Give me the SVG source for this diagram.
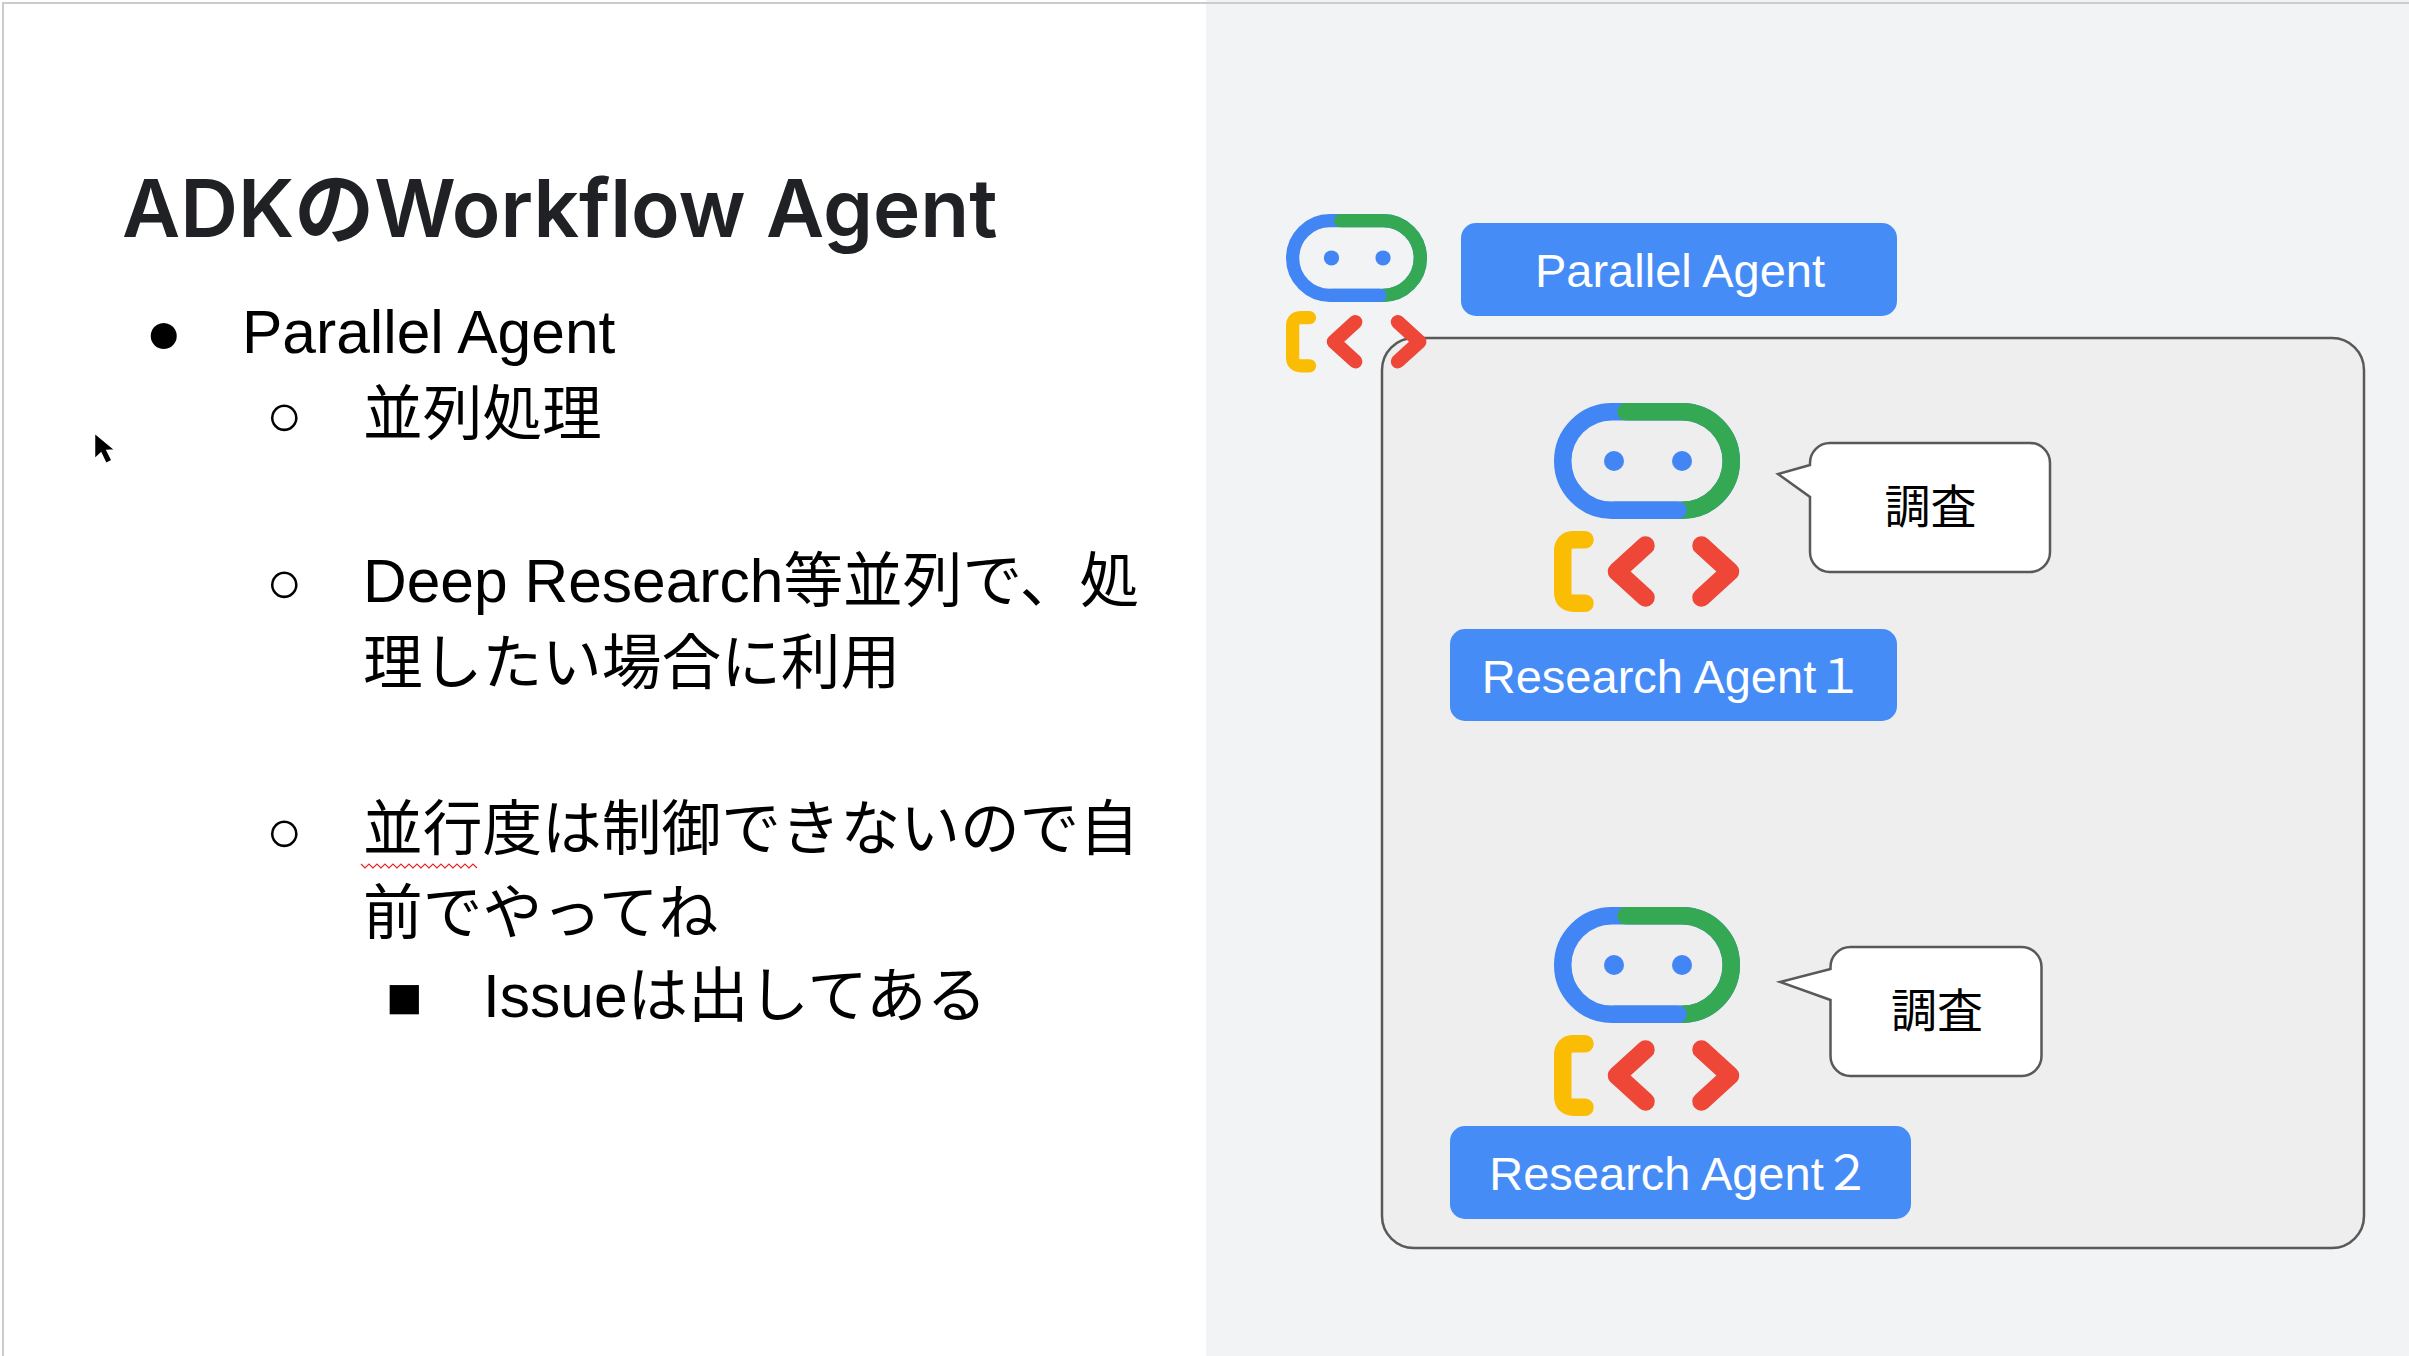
<svg xmlns="http://www.w3.org/2000/svg" width="2409" height="1356" viewBox="0 0 2409 1356">
<style>
.body{font-family:"Liberation Sans","Noto Sans CJK JP",sans-serif;font-size:60.5px;fill:#000}
.cjk{font-size:59.7px}
.title{font-family:"Inter","Noto Sans CJK JP",sans-serif;font-size:80px;font-weight:600;fill:#202124}
.btn{fill:#468cf6}
.btnt{font-family:"Liberation Sans","Noto Sans CJK JP",sans-serif;font-size:47px;fill:#fff;text-anchor:middle}
.call{fill:#fff;stroke:#595959;stroke-width:2.5}
.callt{font-family:"Liberation Sans","Noto Sans CJK JP",sans-serif;font-size:46px;fill:#000;text-anchor:middle}
.s{fill:none;stroke-width:17.5;stroke-linecap:round;stroke-linejoin:round}
</style>
<defs>
<g id="bot">
<rect class="s" x="8.75" y="8.75" width="168.5" height="98.5" rx="49.25" stroke="#4285f4"/>
<path class="s" stroke="#34a853" d="M72 8.75H128A49.25 49.25 0 0 1 128 107.25"/>
<path class="s" stroke="#4285f4" d="M60 107.25H124"/>
<circle cx="60" cy="58" r="10" fill="#4285f4"/>
<circle cx="128" cy="58" r="10" fill="#4285f4"/>
<path class="s" stroke="#fbbc04" d="M31 136.75H20Q8.75 136.75 8.75 148V189Q8.75 200.25 20 200.25H31"/>
<path class="s" style="stroke-width:18.5" stroke="#ee4637" d="M91.5 142.5L63 168.5L91.5 194.5M147.5 142.5L176 168.5L147.5 194.5"/>
</g>
</defs>
<rect id="page" width="2409" height="1356" fill="#fff"/>
<rect id="panel" x="1206" y="0" width="1203" height="1356" fill="#f1f3f4"/>
<path id="edge" d="M3 1356V3H2409" fill="none" stroke="#c9cccc" stroke-width="2"/>

<g id="slide-text">
<text class="title" x="122" y="237">ADKのWorkflow Agent</text>
<text class="body" x="145.5" y="353">●</text>
<text class="body" x="242" y="353">Parallel Agent</text>
<text class="body" x="266" y="436">○</text>
<text class="body cjk" x="363" y="435">並列処理</text>
<text class="body" x="266" y="603">○</text>
<text class="body" x="363" y="602">Deep Research<tspan class="cjk">等並列で、処</tspan></text>
<text class="body cjk" x="363" y="684">理したい場合に利用</text>
<text class="body" x="266" y="852">○</text>
<text class="body cjk" x="363" y="850">並行度は制御できないので自</text>
<text class="body cjk" x="363" y="934">前でやってね</text>
<text class="body" x="386" y="1018">■</text>
<text class="body" x="483" y="1017">Issueは出してある</text>
<polyline id="spell-squiggle" fill="none" stroke="#e8262a" stroke-width="1.2" points="361,864 365,868 369,864 373,868 377,864 381,868 385,864 389,868 393,864 397,868 401,864 405,868 409,864 413,868 417,864 421,868 425,864 429,868 433,864 437,868 441,864 445,868 449,864 453,868 457,864 461,868 465,864 469,868 473,864 477,868"/>
</g>
<path id="cursor" d="M94.5 433V459L101 453L106 463.5L112 460.5L107 450.5L115 450Z" fill="#000" stroke="#fff" stroke-width="1.5"/>

<rect id="container" x="1382" y="338" width="982" height="910" rx="32" fill="#eee" stroke="#595959" stroke-width="2.5"/>

<g id="parallel-agent">
<use href="#bot" transform="translate(1286 214) scale(.758)"/>
<rect class="btn" x="1461" y="223" width="436" height="93" rx="15"/>
<text class="btnt" x="1680" y="287">Parallel Agent</text>
</g>
<g id="research-agent-1">
<use href="#bot" x="1554" y="403"/>
<rect class="btn" x="1450" y="629" width="447" height="92" rx="15"/>
<text class="btnt" x="1672.5" y="693">Research Agent１</text>
</g>
<g id="research-agent-2">
<use href="#bot" x="1554" y="907"/>
<rect class="btn" x="1450" y="1126" width="461" height="93" rx="15"/>
<text class="btnt" x="1680" y="1190">Research Agent２</text>
</g>
<g id="callout-1">
<path class="call" d="M1810 465V463A20 20 0 0 1 1830 443H2030A20 20 0 0 1 2050 463V552A20 20 0 0 1 2030 572H1830A20 20 0 0 1 1810 552V497L1778 474Z"/>
<text class="callt" x="1930.5" y="523">調査</text>
</g>
<g id="callout-2">
<path class="call" d="M1830.5 969V967A20 20 0 0 1 1850.5 947H2021.5A20 20 0 0 1 2041.5 967V1056A20 20 0 0 1 2021.5 1076H1850.5A20 20 0 0 1 1830.5 1056V1000L1780 982Z"/>
<text class="callt" x="1937" y="1027">調査</text>
</g>
<g id="connectors"/>
</svg>
